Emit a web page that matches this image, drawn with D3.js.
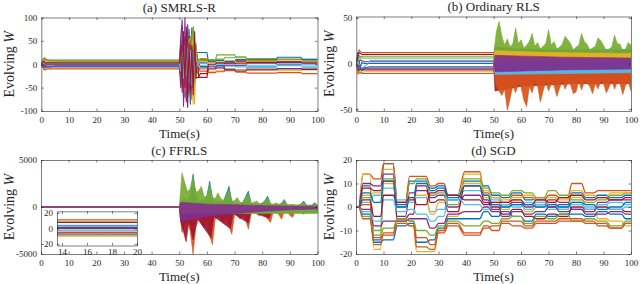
<!DOCTYPE html>
<html>
<head>
<meta charset="utf-8">
<script src="https://cdn.jsdelivr.net/npm/d3@7"></script>
<style>
body { margin: 0; background: #fff; }
text { font-family: "Liberation Serif", "Times New Roman", serif; fill: #262626; }
</style>
</head>
<body>
<svg id="fig" width="640" height="284"></svg>
<script>
// matlab default colour order
var colors = ["#0072BD", "#D95319", "#EDB120", "#7E2F8E", "#77AC30", "#4DBEEE", "#A2142F"]

// ---------- (a) SMRLS-R ----------
var tInitA = [0, 0.5, 1, 1.5, 2, 3, 4, 5]
var tOscA = [50, 50.5, 51, 51.5, 52, 52.5, 53, 53.5, 54, 54.5, 55, 55.5, 56, 56.5, 57]
var segA = [[57.5, 60], [60.5, 63], [63.5, 66], [66.5, 70], [70.5, 74], [74.5, 85], [85.5, 94], [94.5, 100]]
var initA = [
  [0, 3, -2, 1, 0, 0, 0, 0],
  [0, 8, 14, 12, 10, 9, 9, 9],
  [0, -6, -10, -12, -10, -9, -9, -9],
  [0, 5, 3, 4, 2, 2, 2, 2],
  [0, 4, 9, 8, 7, 6, 6, 6],
  [0, -2, -5, -4, -6, -8, -5, -3],
  [0, -3, 2, -2, -1, -1, -1, -1],
  [0, -4, -8, -7, -6, -6, -6, -6],
  [0, -5, -12, -11, -10, -10, -10, -10],
  [0, 6, 3, 5, 4, 4, 4, 4],
  [0, -6, -2, -5, -4, -4, -4, -4],
  [0, 10, 12, 9, 8, 8, 8, 8],
  [0, 2, 0, 1, 1, 1, 1, 1],
  [0, 4, 6, 2, 3, 3, 3, 3]
]
var oscA = [
  [0, 20, -40, 60, -70, 40, -30, 75, -85, 50, -20, 10, 25, -10, 5],
  [9, -20, 40, -55, 30, -60, 45, -35, 20, -75, 55, -40, 15, 8, 10],
  [-9, 15, -50, 35, -25, 55, -70, 40, -30, 60, -85, 30, -20, 12, -8],
  [2, 60, 95, -60, 100, -80, 70, -50, 45, -40, 20, -15, 10, 5, 3],
  [6, -10, 30, -45, 65, -40, 20, -50, 60, -30, 80, -60, 40, -20, 5],
  [-3, 30, -25, 45, -55, 35, -60, 55, -40, 75, -45, 50, -10, 15, -5],
  [-1, -30, 50, -75, 55, -40, -92, 60, -70, 35, -50, 25, -30, 20, -28],
  [-6, 25, -35, 50, -45, 65, -55, 40, -85, 78, -35, 20, 25, 25, 25],
  [-10, -25, 20, -35, 45, -50, 30, -65, 50, -20, 35, -25, 15, -5, -12],
  [4, 35, -40, 25, -60, 45, -35, 55, -45, 30, 65, -85, 35, -10, 6],
  [-4, -50, 80, -90, 60, -75, 85, -60, 40, -50, 30, -20, 10, -8, -10],
  [8, 15, -20, 40, -35, 25, -45, 50, -25, 60, 78, -40, 45, 10, 8],
  [1, -15, 25, -30, 40, -25, 35, -40, 30, -45, 25, -15, 10, 5, 3],
  [3, 40, -60, 70, -50, 80, -70, 45, -55, 40, -65, 70, -30, -28, -28]
]
var levA = [
  [-5, -8, -3, -10, -12, -8, -9, -8],
  [10, 8, 9, 7, 8, 10, 11, 9],
  [-12, -15, -14, -13, -12, -10, -14, -12],
  [3, 5, 2, 4, 6, 5, 4, 6],
  [8, 6, 20, 20, 14, 12, 10, 11],
  [-2, 4, 0, -4, -6, -5, -3, -4],
  [-28, -10, -8, -12, -15, -12, -10, -11],
  [25, 5, 8, 6, 10, 9, 15, 10],
  [-15, -18, -16, -14, -17, -19, -18, -20],
  [6, 3, 5, 8, 4, 6, 7, 5],
  [-8, -4, -6, -2, -3, 2, 0, 1],
  [12, 10, 11, 14, 16, 8, 6, 7],
  [2, -1, 1, 2, -1, -2, 1, 0],
  [-20, 0, 3, 1, 2, 4, 5, 3]
]

// ---------- (b) Ordinary RLS ----------
var tInitB = [0, 0.5, 1, 1.5, 2, 3, 4, 5]
var initB = [
  [0, 10, 15, 13, 12, 12, 12, 12],
  [0, 12, 3, -4, 1, 0, 0, 0],
  [0, -12, -6, -9, -10, -9, -9, -9],
  [0, 6, 2, 4, 3, 2, 2, 2],
  [0, 5, 9, 7, 8, 8, 8, 8],
  [0, 8, -3, -6, -8, -3, -1, 3.5],
  [0, -5, -8, -6, -7, -7, -7, -7],
  [0, -7, -11, -10, -11, -11, -11, -11],
  [0, 4, 7, 6, 6, 6, 6, 6],
  [0, -3, -6, -5, -8, -5, -4, -3.5],
  [0, 7, 12, 11, 10, 10, 10, 10],
  [0, -4, -2, -5, -5, -5, -5, -5]
]
var colInitB = [1, 0, 2, 3, 4, 5, 6, 1, 4, 0, 6, 3]
var tGrid = d3.range(50, 101) // one value per second, 50..100
var greenHiB = [10, 35, 46, 30, 20, 27, 18, 22, 39, 22, 26, 17, 20, 24, 33, 19, 23, 16, 19, 22, 37,
  20, 24, 16, 18, 21, 30, 26, 22, 15, 18, 20, 33, 24, 21, 15, 17, 19, 28, 25, 20, 14, 16, 18, 31, 22, 21, 14, 16, 23, 20]
var orangeLoB = [-8, -25, -30, -35, -28, -51, -38, -24, -32, -22, -26, -40, -47, -25, -32, -21, -24, -42, -30, -20, -30,
  -22, -24, -36, -27, -19, -28, -21, -23, -33, -31, -19, -29, -20, -22, -25, -33, -22, -28, -19, -22, -32, -26, -18, -28, -20, -22, -34, -24, -20, -30]
var bandsB = [
  {c: 0, t: [50, 50.5, 60, 80, 100], hi: [0, 18, 16, 15, 15], lo: [0, -18, -17, -15, -16]},
  {c: 6, t: [50, 50.5, 60, 80, 100], hi: [0, 2, 0, 0, 0], lo: [0, -30, -25, -22, -22]},
  {c: 1, t: tGrid, hi: -4, lo: orangeLoB},
  {c: 4, t: tGrid, hi: greenHiB, lo: 6},
  {c: 5, t: [50, 50.5, 100], hi: [0, 4, 3], lo: [0, -12, -10]},
  {c: 2, t: [50, 50.5, 70, 100], hi: [0, 14, 12, 11], lo: [0, 2, 3, 3]},
  {c: 3, t: [50, 50.5, 75, 100], hi: [0, 9, 7, 6], lo: [0, -9, -7, -6]}
]

// ---------- (c) FFRLS ----------
var flatC = [11, 8.5, 7.5, 4, 3, -2, -3, -5, -7, -8.5, -10, 1, 0]
var colFlatC = [1, 4, 6, 5, 0, 4, 5, 6, 1, 0, 2, 3, 3]
var greenHiC = [0, 3650, 2600, 1600, 2000, 3200, 1600, 1700, 2200, 1100, 1100, 2400, 1000, 900, 1500, 900, 700, 1200, 1900, 600, 700,
  1000, 500, 500, 1000, 1400, 400, 500, 640, 350, 400, 600, 1000, 350, 300, 460, 300, 350, 700, 250, 250, 280, 200, 180, 250, 550, 200, 180, 180, 400, 200]
var blueHiC = [0, 800, 900, 700, 1500, 3500, 1300, 600, 700, 700, 1200, 2750, 1000, 500, 600, 500, 600, 1400, 2200, 600, 400,
  400, 400, 500, 1100, 1700, 400, 300, 300, 300, 400, 700, 1160, 300, 250, 250, 250, 400, 800, 250, 200, 200, 200, 200, 300, 640, 200, 180, 200, 460, 200]
var orangeLoC = [0, -2700, -1800, -1500, -2600, -5000, -2200, -1300, -1800, -2200, -1300, -3000, -4000, -1300, -1000, -1300, -1660, -1000, -2000, -2900, -800,
  -900, -1300, -800, -1300, -2370, -700, -600, -700, -950, -600, -900, -1300, -1660, -500, -500, -800, -1300, -450, -450, -900, -1100, -450, -400, -500, -780, -350, -350, -450, -600, -350]
var bandsC = [
  {c: 1, t: tGrid, hi: -200, lo: orangeLoC},
  {c: 6, t: [50, 50.5, 52.5, 53.5, 55, 56.5, 61.5, 62.5, 68.5, 69.5, 75, 76, 82.5, 83.5, 100],
    hi: 100, lo: [0, -1500, -3700, -1500, -3500, -1200, -3300, -1000, -2300, -700, -1700, -500, -1200, -350, -250]},
  {c: 0, t: tGrid, hi: blueHiC, lo: -600},
  {c: 4, t: tGrid, hi: greenHiC, lo: -700},
  {c: 2, t: [50, 50.5, 60, 75, 100], hi: [0, 300, 250, 150, 80], lo: [0, -700, -500, -300, -150]},
  {c: 3, t: [50, 50.5, 55, 60, 70, 80, 90, 100], hi: [0, 500, 400, 300, 250, 150, 100, 80],
    lo: [0, -1500, -1300, -1000, -700, -450, -300, -200]}
]

// ---------- (d) SGD ----------
var platD = [[0, 1], [2.5, 5], [6.5, 9], [10, 13.5], [15, 18], [19.5, 21], [22, 25.5], [27, 28.5], [30, 32], [33.5, 37],
  [39.5, 45], [46.5, 48], [49.5, 52], [53, 55.5], [57, 60], [61.5, 64], [65.5, 68.5], [70, 72.5], [74, 77], [78.5, 82],
  [83.5, 86.5], [88, 91], [92.5, 96.5], [98, 100]]
var levD = [
  [0, 9, -14, 18.5, 1, 11, 11, 7, 8, 3, 11, 9, 5, 4, 6, 3, 4, 0, 1, 6, 4, 5, 4, 5],
  [0, 14, 12, 18.5, 2, 13, 13, 9, 10, 5, 15, 6, 4, 2, 5, 4, 3, 5, 4, 10, 6, 7, 7, 7],
  [0, 14, -18, 16, -6, -8, -19, -19, -10, -4, 14, 4, 2, -1, 3, -2, 0, 2, -1, 4, 1, -5, -6, -8],
  [0, 10, 9, 14, -4, 6, 7, 4, 5, 0, 5, 2, -1, 1, 2, 0, 1, 3, 2, -1, -2, 2, 3, 3],
  [0, 4, -10, 12, 0, 10, 12, 5, 6, 1, 12, 8, 6, 5, 7, 6, 4, 7, 5, 3, 2, 3, 5, 6],
  [0, 2, 5, 8, 3, 2, 4, -2, -1, 3, 7, 5, 3, 1, 0, 2, 1, -1, 0, 1, 0, 1, 2, 1],
  [0, 8, 7, 11, -5, -3, 9, 2, 3, -2, 9, 3, 0, -3, -1, -4, -5, -3, -4, 0, -1, 0, -1, -2],
  [0, -3, -15, -14, -8, -7, -15, -14, -9, -5, -5, -2, -4, -2, -4, -6, -3, -4, -3, -3, -4, -2, -3, -5],
  [0, 1, -16, -11, -5, -6, -13, -16, -11, -8, -12, -8, -10, -6, -6, -8, -6, -6, -5, -5, -6, -8, -9, -7],
  [0, 5, 6, 10, 2, 3, 5, -3, 2, 5, 10, 7, 4, 3, 4, 5, 2, 4, 3, 7, 5, 4, 6, 6],
  [0, -1, -8, -6, -6, -5, -5, -9, -7, -3, -2, 0, -2, -4, -2, -3, -2, 0, -2, -1, -3, -3, -2, -3],
  [0, -4, -12, -9, -5, -6, -10, -12, -8, -6, -8, -6, -7, -5, -4, -7, -4, -5, -3, -6, -5, -6, -8, -6],
  [0, -2, -6, 3, -2, -1, -3, -6, -4, 5, 1, -1, 1, 0, 1, -1, 2, 1, -1, 2, -1, 1, -1, 0],
  [0, 3, -4, 5, 2, 4, 1, 6, 7, 5, 3, 1, 2, 2, 3, 1, 3, 2, 4, 5, 3, 4, 3, 4],
  [0, 6, 2, 11, 0, 3, 10, 8, 9, 4, 9, 5, 1, 0, 1, 1, 0, 1, 0, 2, 1, -1, 0, 2],
  [0, -5, -13, -12, -7, -8, -17, -18, -10, -7, -11, -9, -8, -7, -8, -9, -7, -7, -6, -6, -7, -7, -9, -7]
]

var xTicks = [0, 10, 20, 30, 40, 50, 60, 70, 80, 90, 100]

var svg = d3.select("#fig")

function panel(o) {
  var x = d3.scaleLinear().domain(o.xd).range([o.x0, o.x1])
  var y = d3.scaleLinear().domain(o.yd).range([o.y1, o.y0])
  var g = svg.append("g")
  g.append("clipPath").attr("id", o.id).append("rect")
    .attr("x", o.x0).attr("y", o.y0).attr("width", o.x1 - o.x0).attr("height", o.y1 - o.y0)
  var plot = g.append("g").attr("clip-path", "url(#" + o.id + ")")
  return {g: g, plot: plot, x: x, y: y, o: o}
}

function drawAxes(p, yTicks, opts) {
  var o = p.o, g = p.g
  opts = opts || {}
  var xt = opts.xTicks || xTicks
  var ax = g.append("g")
  ax.append("g").attr("transform", "translate(0," + o.y1 + ")")
    .call(d3.axisBottom(p.x).tickValues(xt).tickSizeInner(-2.5).tickSizeOuter(0).tickPadding(opts.xpad || 6).tickFormat(d3.format("d")))
  ax.append("g").attr("transform", "translate(0," + o.y0 + ")")
    .call(d3.axisTop(p.x).tickValues(xt).tickSizeInner(-2.5).tickSizeOuter(0).tickFormat(""))
  ax.append("g").attr("transform", "translate(" + o.x0 + ",0)")
    .call(d3.axisLeft(p.y).tickValues(yTicks).tickSizeInner(-2.5).tickSizeOuter(0).tickPadding(4).tickFormat(d3.format("d")))
  ax.append("g").attr("transform", "translate(" + o.x1 + ",0)")
    .call(d3.axisRight(p.y).tickValues(yTicks).tickSizeInner(-2.5).tickSizeOuter(0).tickFormat(""))
  ax.selectAll("path.domain").attr("stroke", "#262626").attr("stroke-width", 0.6)
  ax.selectAll(".tick line").attr("stroke", "#262626").attr("stroke-width", 0.6)
  ax.selectAll("text").style("font-size", "9px").attr("fill", "#262626")
  // the minus sign is a plain hyphen in the original
  ax.selectAll("text").text(function () { return d3.select(this).text().replace("\u2212", "-") })

  if (opts.noLabels) return
  var cx = (o.x0 + o.x1) / 2, cy = (o.y0 + o.y1) / 2
  g.append("text").attr("x", cx).attr("y", o.y0 - 5.5).attr("text-anchor", "middle")
    .style("font-size", "13px").text(o.title)
  g.append("text").attr("x", cx).attr("y", o.y1 + 26.5).attr("text-anchor", "middle")
    .style("font-size", "13px").text("Time(s)")
  var yl = g.append("text").attr("transform", "translate(" + (o.x0 - o.ylab) + "," + cy + ") rotate(-90)")
    .attr("text-anchor", "middle").style("font-size", "14px")
  yl.append("tspan").text("Evolving ")
  yl.append("tspan").style("font-style", "italic").text("W")
}

function drawLine(pp, pts, c, curve, w) {
  var l = d3.line().x(function (d) { return pp.x(d[0]) }).y(function (d) { return pp.y(d[1]) })
  if (curve) l.curve(curve)
  pp.plot.append("path").datum(pts).attr("d", l).attr("fill", "none")
    .attr("stroke", colors[c]).attr("stroke-width", w || 1.1).attr("stroke-linejoin", "round")
}

function drawBand(pp, b) {
  var pts = b.t.map(function (t, i) {
    return {t: t,
      hi: Array.isArray(b.hi) ? b.hi[i] : (i == 0 ? 0 : b.hi),
      lo: Array.isArray(b.lo) ? b.lo[i] : (i == 0 ? 0 : b.lo)}
  })
  var a = d3.area().x(function (d) { return pp.x(d.t) }).y0(function (d) { return pp.y(d.lo) }).y1(function (d) { return pp.y(d.hi) })
  pp.plot.append("path").datum(pts).attr("d", a).attr("fill", colors[b.c]).attr("fill-opacity", 0.92)
    .attr("stroke", colors[b.c]).attr("stroke-width", 0.6)
}

// ---- panel a
var pa = panel({id: "ca", x0: 41.3, x1: 317.5, y0: 17.5, y1: 111, xd: [0, 100], yd: [-100, 100], title: "(a) SMRLS-R", ylab: 27})
initA.forEach(function (iv, k) {
  var pts = tInitA.map(function (t, i) { return [t, iv[i]] })
  tOscA.forEach(function (t, i) { pts.push([t, oscA[k][i]]) })
  segA.forEach(function (s, i) { pts.push([s[0], levA[k][i]]); pts.push([s[1], levA[k][i]]) })
  drawLine(pa, pts, k % 7)
})
drawAxes(pa, [-100, -50, 0, 50, 100])

// ---- panel b
var pb = panel({id: "cb", x0: 356.3, x1: 631, y0: 16.5, y1: 111, xd: [0, 100], yd: [-52, 51.5], title: "(b) Ordinary RLS", ylab: 22})
initB.forEach(function (iv, k) {
  var pts = tInitB.map(function (t, i) { return [t, iv[i]] })
  pts.push([50.5, iv[iv.length - 1]])
  drawLine(pb, pts, colInitB[k])
})
bandsB.forEach(function (b) { drawBand(pb, b) })
drawAxes(pb, [-50, 0, 50])

// ---- panel c
var pc = panel({id: "cc", x0: 41, x1: 317.5, y0: 160, y1: 254, xd: [0, 100], yd: [-5000, 5000], title: "(c) FFRLS", ylab: 27})
flatC.forEach(function (v, k) { drawLine(pc, [[0, v], [50.5, v]], colFlatC[k]) })
bandsC.forEach(function (b) { drawBand(pc, b) })
drawAxes(pc, [-5000, 0, 5000])

// inset: zoom on the flat part of (c)
var pi = panel({id: "ci", x0: 57, x1: 137, y0: 211.3, y1: 245.5, xd: [13.6, 20], yd: [-22, 22]})
pi.plot.append("rect").attr("x", 57).attr("y", 211.3).attr("width", 80).attr("height", 34.2).attr("fill", "#fff")
flatC.forEach(function (v, k) { drawLine(pi, [[0, v], [50, v]], colFlatC[k]) })
drawAxes(pi, [-20, 0, 20], {xTicks: [14, 16, 18, 20], noLabels: true, xpad: 3})

// ---- panel d
var pd = panel({id: "cd", x0: 356, x1: 631, y0: 160, y1: 254, xd: [0, 100], yd: [-20, 20], title: "(d) SGD", ylab: 22})
levD.forEach(function (lv, k) {
  var pts = []
  platD.forEach(function (s, i) { pts.push([s[0], lv[i]]); pts.push([s[1], lv[i]]) })
  drawLine(pd, pts, k % 7, d3.curveMonotoneX, 1.3)
})
drawAxes(pd, [-20, -10, 0, 10, 20])
</script>
</body>
</html>
